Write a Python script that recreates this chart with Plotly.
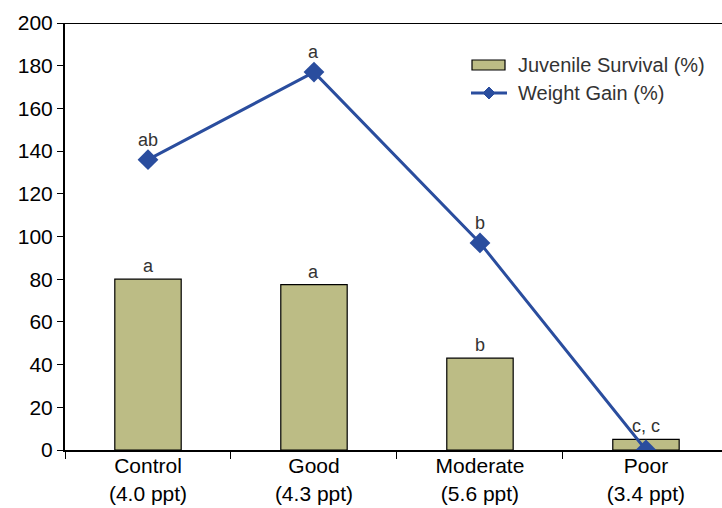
import plotly.graph_objects as go

categories = ["Control<br>(4.0 ppt)", "Good<br>(4.3 ppt)", "Moderate<br>(5.6 ppt)", "Poor<br>(3.4 ppt)"]
survival = [80, 77.5, 43, 5]
weight_gain = [136, 177, 97, 0]
survival_letters = ["a", "a", "b", "c, c"]
gain_letters = ["ab", "a", "b", ""]
y_ticks = list(range(0, 201, 20))
series_names = ["Juvenile Survival (%)", "Weight Gain (%)"]

FONT = "Liberation Sans, Arial, sans-serif"
BAR_COLOR = "#BCBC85"
LINE_COLOR = "#2A4D9E"

# plot area in pixels (for legend placement)
L, R, T, B = 65, 722, 23, 450
def px(x):
    return (x - L) / (R - L)
def py(y):
    return (B - y) / (B - T)

fig = go.Figure()
fig.add_trace(go.Bar(
    x=categories, y=survival, name=series_names[0],
    width=0.4, marker=dict(color=BAR_COLOR, line=dict(color="black", width=1.2)),
))
fig.add_trace(go.Scatter(
    x=categories, y=weight_gain, name=series_names[1], mode="lines+markers",
    line=dict(color=LINE_COLOR, width=3),
    marker=dict(symbol="diamond", size=16, color=LINE_COLOR),
))

annotations = []
for c, v, t in zip(categories, survival, survival_letters):
    annotations.append(dict(x=c, y=v, text=t, showarrow=False, yanchor="bottom", yshift=1,
                            font=dict(family=FONT, size=18, color="#333333")))
for c, v, t in zip(categories, weight_gain, gain_letters):
    if t:
        annotations.append(dict(x=c, y=v, text=t, showarrow=False, yanchor="bottom", yshift=8,
                                font=dict(family=FONT, size=18, color="#333333")))

# manual legend
leg_rows = [65, 93]
for name, yy in zip(series_names, leg_rows):
    annotations.append(dict(xref="paper", yref="paper", x=px(516), y=py(yy), text=name,
                            showarrow=False, xanchor="left", yanchor="middle",
                            font=dict(family=FONT, size=20, color="#333333")))

dx, dy = 6, 6
cx, cy = px(489), py(leg_rows[1])
wx, wy = dx / (R - L), dy / (B - T)
shapes = [
    dict(type="line", xref="paper", yref="y", x0=0, x1=1, y0=200, y1=200,
         line=dict(color="black", width=2)),
    dict(type="rect", xref="paper", yref="paper", x0=px(472), x1=px(505),
         y0=py(leg_rows[0] - 5), y1=py(leg_rows[0] + 5),
         fillcolor=BAR_COLOR, line=dict(color="black", width=1.2)),
    dict(type="line", xref="paper", yref="paper", x0=px(471), x1=px(507),
         y0=py(leg_rows[1]), y1=py(leg_rows[1]), line=dict(color=LINE_COLOR, width=3)),
    dict(type="path", xref="paper", yref="paper",
         path=f"M {cx - wx},{cy} L {cx},{cy + wy} L {cx + wx},{cy} L {cx},{cy - wy} Z",
         fillcolor=LINE_COLOR, line=dict(color=LINE_COLOR, width=1)),
]

fig.update_layout(
    width=722, height=508,
    margin=dict(l=L, r=0, t=T, b=508 - B),
    plot_bgcolor="white", paper_bgcolor="white",
    font=dict(family=FONT, color="black"),
    showlegend=False,
    annotations=annotations,
    shapes=shapes,
    xaxis=dict(
        type="category", range=[-0.5, 3.458], showline=True, linecolor="black", linewidth=2,
        ticks="outside", tickson="boundaries", ticklen=7, tickwidth=1.2, tickcolor="black",
        tickfont=dict(family=FONT, size=21, color="black"), showgrid=False, zeroline=False,
        automargin=False, ticklabelstandoff=-4,
    ),
    yaxis=dict(
        range=[0, 200], tickvals=y_ticks, showline=True, linecolor="black", linewidth=2,
        ticks="outside", ticklen=6, tickwidth=1.2, tickcolor="black",
        tickfont=dict(family=FONT, size=21, color="black"), showgrid=False, zeroline=False,
        automargin=False,
    ),
)

fig.write_html("out.html", config={"displayModeBar": False},
               post_script="document.body.style.margin='0px';document.body.style.padding='0px';")
